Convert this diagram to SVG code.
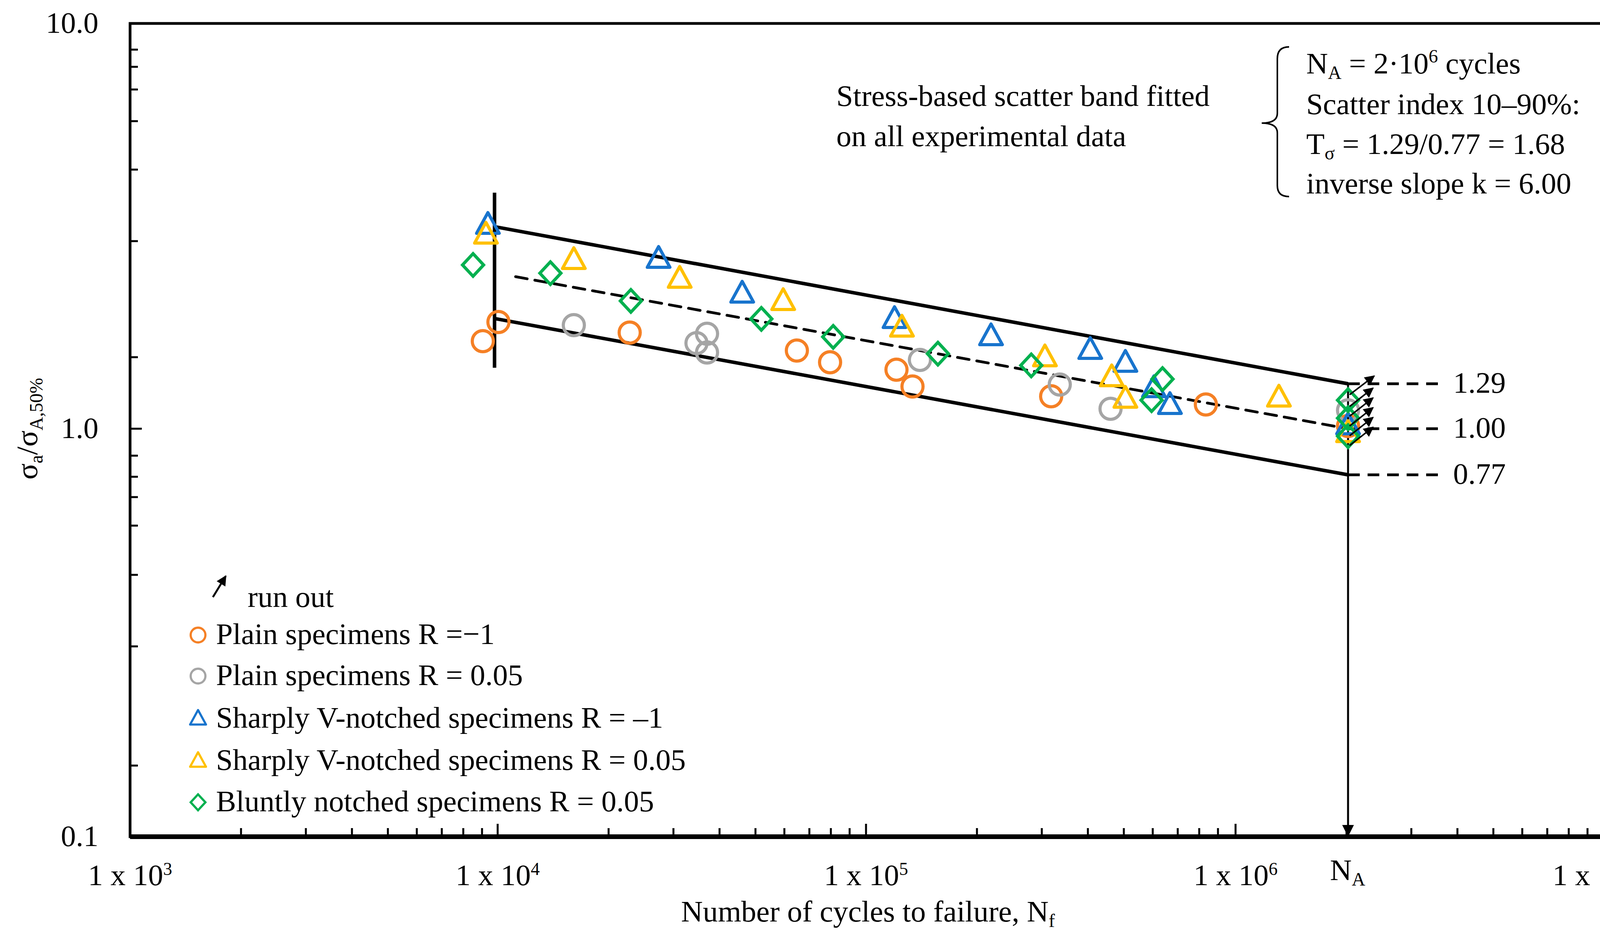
<svg xmlns="http://www.w3.org/2000/svg" width="4228" height="2390" viewBox="0 0 4228 2390">
<style>
text{font-family:"Liberation Serif","DejaVu Serif",serif;font-size:77px;fill:#000}
.o{fill:none;stroke:#f58025;stroke-width:8}
.g{fill:none;stroke:#a5a5a5;stroke-width:8}
.b{fill:none;stroke:#1874cd;stroke-width:8;stroke-linejoin:round}
.y{fill:none;stroke:#ffc000;stroke-width:8;stroke-linejoin:round}
.d{fill:none;stroke:#00b04f;stroke-width:8}
.ax{stroke:#000;stroke-width:7;fill:none}
.tk{stroke:#000;stroke-width:5}
.band{stroke:#000;stroke-width:9;fill:none}
.dash{stroke:#000;stroke-width:7;stroke-dasharray:30 20;fill:none}
</style>
<defs>
<marker id="ah" viewBox="0 0 10 10" refX="9" refY="5" markerWidth="40" markerHeight="26" markerUnits="userSpaceOnUse" orient="auto"><path d="M0,0L10,5L0,10z"/></marker>
<marker id="ah2" viewBox="0 0 10 10" refX="9" refY="5" markerWidth="50" markerHeight="30" markerUnits="userSpaceOnUse" orient="auto"><path d="M0,0L10,5L0,10z"/></marker>
<circle id="C" r="27"/>
<path id="T" d="M0,-33L29,20L-29,20z"/>
<path id="D" d="M0,-29L27,0L0,29L-27,0z"/>
</defs>
<g id="axes">
<rect x="333" y="60" width="3778" height="2081" class="ax"/>
<line x1="333" y1="2141" x2="4111" y2="2141" stroke="#000" stroke-width="12"/>
<path class="tk" d="M333,1097h30M333,60h30M333,2141h30M333,127h20M333,171h20M333,229h20M333,310h20M333,434h20M333,617h20M333,914h20M333,1166h20M333,1220h20M333,1272h20M333,1345h20M333,1471h20M333,1654h20M333,1959h20"/>
<path class="tk" d="M617,2141v-22M783,2141v-22M901,2141v-22M993,2141v-22M1067,2141v-22M1131,2141v-22M1186,2141v-22M1234,2141v-22M1274,2141v-33M1558,2141v-22M1724,2141v-22M1842,2141v-22M1934,2141v-22M2008,2141v-22M2072,2141v-22M2127,2141v-22M2175,2141v-22M2217,2141v-33M2501,2141v-22M2667,2141v-22M2785,2141v-22M2877,2141v-22M2951,2141v-22M3015,2141v-22M3070,2141v-22M3118,2141v-22M3163,2141v-33M3447,2141v-22M3613,2141v-22M3731,2141v-22M3823,2141v-22M3897,2141v-22M3961,2141v-22M4016,2141v-22M4064,2141v-22"/>
<text x="252" y="84" text-anchor="end">10.0</text>
<text x="252" y="1121" text-anchor="end">1.0</text>
<text x="252" y="2165" text-anchor="end">0.1</text>
<text x="333" y="2265" text-anchor="middle" font-size="72">1 x 10<tspan dy="-26" font-size="46">3</tspan></text>
<text x="1274" y="2265" text-anchor="middle" font-size="72">1 x 10<tspan dy="-26" font-size="46">4</tspan></text>
<text x="2217" y="2265" text-anchor="middle" font-size="72">1 x 10<tspan dy="-26" font-size="46">5</tspan></text>
<text x="3163" y="2265" text-anchor="middle" font-size="72">1 x 10<tspan dy="-26" font-size="46">6</tspan></text>
<text x="4190" y="2265" text-anchor="end" font-size="72">1 x 10<tspan dy="-26" font-size="46">7</tspan></text>
<text x="3450" y="2252" text-anchor="middle">N<tspan dy="14" font-size="48">A</tspan></text>
<text x="2222" y="2358" text-anchor="middle" font-size="74">Number of cycles to failure, N<tspan dy="14" font-size="48">f</tspan></text>
<text transform="translate(95,1097) rotate(-90)" text-anchor="middle">σ<tspan dy="14" font-size="48">a</tspan><tspan dy="-14">/σ</tspan><tspan dy="14" font-size="48">A,50%</tspan></text>
</g>
<g id="connectors">
<line x1="1266" y1="493" x2="1266" y2="941" class="band"/>
<line x1="1266" y1="580" x2="3451" y2="982" class="band"/>
<line x1="1266" y1="815" x2="3451" y2="1215" class="band"/>
<line x1="1320" y1="708" x2="3451" y2="1097" class="dash" stroke-width="10" stroke-dasharray="40 30" stroke-linecap="round"/>
<line x1="3451" y1="982" x2="3451" y2="2138" stroke="#000" stroke-width="5" marker-end="url(#ah2)"/>
<path class="dash" d="M3451,982H3700M3451,1097H3700M3451,1215H3700"/>
</g>
<g id="points">
<g class="o">
<use href="#C" x="1236" y="873"/><use href="#C" x="1276" y="824"/><use href="#C" x="1612" y="851"/><use href="#C" x="2040" y="897"/><use href="#C" x="2125" y="927"/><use href="#C" x="2295" y="946"/><use href="#C" x="2336" y="989"/><use href="#C" x="2691" y="1014"/><use href="#C" x="3087" y="1035"/><use href="#C" x="3451" y="1090"/>
</g>
<g class="g">
<use href="#C" x="1469" y="832"/><use href="#C" x="1783" y="878"/><use href="#C" x="1810" y="854"/><use href="#C" x="1810" y="902"/><use href="#C" x="2355" y="921"/><use href="#C" x="2713" y="984"/><use href="#C" x="2843" y="1046"/><use href="#C" x="3451" y="1050"/>
</g>
<g class="b">
<use href="#T" x="1249" y="577"/><use href="#T" x="1686" y="664"/><use href="#T" x="1900" y="753"/><use href="#T" x="2290" y="818"/><use href="#T" x="2537" y="862"/><use href="#T" x="2791" y="897"/><use href="#T" x="2881" y="930"/><use href="#T" x="2954" y="995"/><use href="#T" x="2995" y="1038"/><use href="#T" x="3451" y="1090"/>
</g>
<g class="y">
<use href="#T" x="1244" y="602"/><use href="#T" x="1469" y="667"/><use href="#T" x="1740" y="715"/><use href="#T" x="2005" y="772"/><use href="#T" x="2309" y="840"/><use href="#T" x="2675" y="916"/><use href="#T" x="2846" y="967"/><use href="#T" x="2881" y="1022"/><use href="#T" x="3274" y="1019"/><use href="#T" x="3451" y="1110"/>
</g>
<g class="d">
<use href="#D" x="1211" y="678"/><use href="#D" x="1409" y="699"/><use href="#D" x="1615" y="770"/><use href="#D" x="1949" y="816"/><use href="#D" x="2133" y="862"/><use href="#D" x="2401" y="905"/><use href="#D" x="2640" y="935"/><use href="#D" x="2948" y="1024"/><use href="#D" x="2976" y="970"/><use href="#D" x="3451" y="1024"/><use href="#D" x="3451" y="1070"/><use href="#D" x="3451" y="1116"/>
</g>
</g>
<g id="runouts" stroke="#000" stroke-width="4">
<line x1="3455" y1="1010" x2="3518" y2="962" marker-end="url(#ah)"/>
<line x1="3455" y1="1040" x2="3515" y2="993" marker-end="url(#ah)"/>
<line x1="3455" y1="1065" x2="3515" y2="1018" marker-end="url(#ah)"/>
<line x1="3455" y1="1090" x2="3515" y2="1043" marker-end="url(#ah)"/>
<line x1="3455" y1="1115" x2="3515" y2="1068" marker-end="url(#ah)"/>
<line x1="3455" y1="1140" x2="3515" y2="1093" marker-end="url(#ah)"/>
</g>
<g id="annotation">
<text x="2141" y="271">Stress-based scatter band fitted</text>
<text x="2141" y="374">on all experimental data</text>
<path d="M3300,120Q3270,120 3270,150V290Q3270,315 3230,315Q3270,315 3270,340V475Q3270,503 3300,503" fill="none" stroke="#000" stroke-width="4"/>
<text x="3344" y="188">N<tspan dy="14" font-size="48">A</tspan><tspan dy="-14"> = 2·10</tspan><tspan dy="-28" font-size="48">6</tspan><tspan dy="28"> cycles</tspan></text>
<text x="3344" y="292">Scatter index 10–90%:</text>
<text x="3344" y="394">T<tspan dy="14" font-size="48">σ</tspan><tspan dy="-14"> = 1.29/0.77 =  1.68</tspan></text>
<text x="3344" y="495">inverse slope k = 6.00</text>
<text x="3720" y="1005">1.29</text>
<text x="3720" y="1120">1.00</text>
<text x="3720" y="1238">0.77</text>
</g>
<g id="legend">
<line x1="545" y1="1528" x2="578" y2="1474" stroke="#000" stroke-width="5" marker-end="url(#ah)"/>
<text x="634" y="1553">run out</text>
<use href="#C" x="507" y="1625" class="o" transform="translate(507,1625) scale(0.7) translate(-507,-1625)"/>
<text x="553" y="1648">Plain specimens R =−1</text>
<use href="#C" x="507" y="1730" class="g" transform="translate(507,1730) scale(0.7) translate(-507,-1730)"/>
<text x="553" y="1753">Plain specimens R = 0.05</text>
<use href="#T" x="507" y="1840" class="b" transform="translate(507,1840) scale(0.7) translate(-507,-1840)"/>
<text x="553" y="1862">Sharply V-notched specimens R = –1</text>
<use href="#T" x="507" y="1948" class="y" transform="translate(507,1948) scale(0.7) translate(-507,-1948)"/>
<text x="553" y="1970">Sharply V-notched specimens R = 0.05</text>
<use href="#D" x="507" y="2053" class="d" transform="translate(507,2053) scale(0.7) translate(-507,-2053)"/>
<text x="553" y="2076">Bluntly notched specimens R = 0.05</text>
</g>
</svg>
